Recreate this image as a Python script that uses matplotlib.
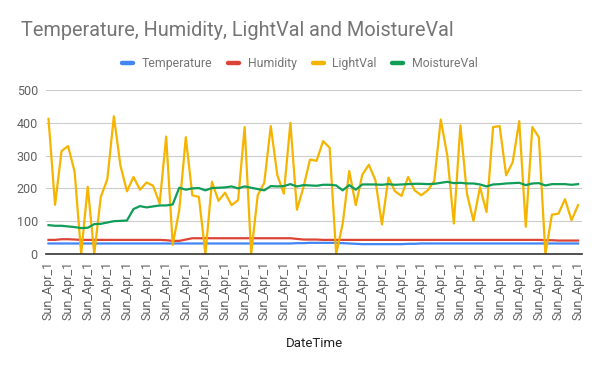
import matplotlib
matplotlib.use("Agg")
import matplotlib.pyplot as plt

plt.rcParams['font.family'] = ['Roboto', 'DejaVu Sans']

# values, one per reading (82 readings)
light_val = [412, 150, 314, 329, 250, 0, 205, 0, 174, 228,
             420, 270, 191, 235, 196, 218, 208, 154, 358, 28,
             134, 356, 179, 174, 0, 220, 162, 187, 149, 164,
             387, 0, 179, 217, 390, 240, 184, 400, 135, 204,
             288, 284, 344, 324, 0, 93, 253, 149, 242, 272,
             225, 90, 233, 191, 177, 235, 194, 179, 194, 222,
             410, 300, 93, 392, 184, 101, 204, 128, 387, 390,
             240, 280, 405, 83, 387, 356, 0, 120, 123, 167,
             103, 149]
moisture_val = [88, 86, 86, 84, 82, 79, 80, 91, 92, 96,
                100, 101, 102, 137, 146, 142, 145, 148, 148, 151,
                202, 196, 200, 201, 194, 201, 202, 203, 206, 200,
                206, 202, 198, 194, 207, 206, 207, 213, 206, 210,
                209, 208, 211, 211, 209, 194, 210, 196, 212, 212,
                212, 211, 213, 211, 212, 213, 214, 214, 213, 214,
                217, 220, 216, 217, 215, 215, 212, 206, 212, 213,
                215, 216, 217, 210, 215, 216, 209, 213, 213, 213,
                211, 213]
humidity = [43, 43, 45, 45, 44, 43, 43, 43, 43, 43,
            43, 43, 43, 43, 43, 43, 43, 43, 42, 40,
            40, 44, 48, 48, 48, 48, 48, 48, 48, 48,
            48, 48, 48, 48, 48, 48, 48, 48, 46, 44,
            44, 44, 43, 43, 43, 43, 43, 43, 43, 43,
            43, 43, 43, 43, 43, 43, 43, 43, 43, 43,
            43, 43, 43, 43, 43, 43, 43, 43, 43, 43,
            43, 43, 43, 43, 43, 43, 42, 42, 41, 41,
            41, 41]
temperature = [32, 32, 32, 32, 32, 32, 32, 32, 32, 32,
               32, 32, 32, 32, 32, 32, 32, 32, 32, 32,
               32, 32, 32, 32, 32, 32, 32, 32, 32, 32,
               32, 32, 32, 32, 32, 32, 32, 32, 33, 33,
               34, 34, 34, 34, 34, 33, 32, 31, 30, 30,
               30, 30, 30, 30, 30, 31, 31, 32, 32, 32,
               32, 32, 32, 32, 32, 32, 32, 32, 32, 32,
               32, 32, 32, 32, 32, 32, 32, 32, 32, 32,
               32, 32]
labels = ["Sun_Apr_1"] * len(light_val)

colors = {"Temperature": "#4285F4", "Humidity": "#DB4437",
          "LightVal": "#F4B400", "MoistureVal": "#0F9D58"}

fig = plt.figure(figsize=(6, 3.71), dpi=100)
ax = fig.add_axes([0.077, 0.3154, 0.893, 0.442])

x = list(range(len(light_val)))
ax.plot(x, temperature, color=colors["Temperature"], lw=1.6, label="Temperature")
ax.plot(x, humidity, color=colors["Humidity"], lw=1.6, label="Humidity")
ax.plot(x, light_val, color=colors["LightVal"], lw=1.6, label="LightVal")
ax.plot(x, moisture_val, color=colors["MoistureVal"], lw=1.6, label="MoistureVal")

ax.set_xlim(-0.35, 81.6)
ax.set_ylim(0, 500)
ax.set_yticks([0, 100, 200, 300, 400, 500])
ax.set_xticks(x[::3])
ax.set_xticklabels(labels[::3], rotation=90, fontsize=9, color="#616161")
ax.tick_params(axis="y", labelsize=9, labelcolor="#616161", length=0, pad=6)
ax.tick_params(axis="x", length=0, pad=5)
ax.grid(axis="y", color="#cccccc", lw=0.8)
ax.set_axisbelow(True)
for s in ["top", "right", "left"]:
    ax.spines[s].set_visible(False)
ax.spines["bottom"].set_color("#333333")
ax.spines["bottom"].set_linewidth(1.2)

ax.set_xlabel("DateTime", fontsize=9.5, color="#222222", labelpad=12)

fig.text(0.035, 0.919, "Temperature, Humidity, LightVal and MoistureVal",
         fontsize=14.3, color="#757575", va="center", ha="left")

leg = fig.legend(loc="center", bbox_to_anchor=(0.5, 0.828), ncol=4, frameon=False,
                 fontsize=8.8, handlelength=0.9, handletextpad=0.7,
                 columnspacing=1.3, labelcolor="#757575")
for h in leg.get_lines():
    h.set_linewidth(3.2)
    h.set_solid_capstyle("round")

fig.savefig("out.png", dpi=100)
